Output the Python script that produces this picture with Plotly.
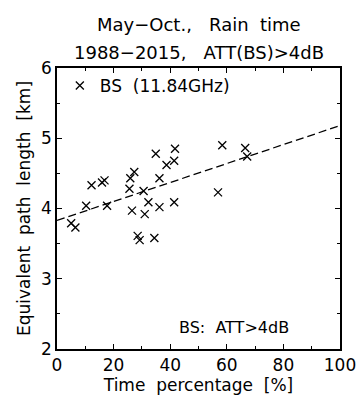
import plotly.graph_objects as go

# Scatter data: time percentage [%] vs equivalent path length [km]
time_pct = [5.0, 6.5, 10.3, 12.2, 15.9, 16.8, 17.7, 25.6, 25.9, 27.3, 26.5, 28.5, 29.2,
            30.6, 31.0, 32.3, 34.4, 34.9, 36.2, 36.2, 38.7, 41.7, 41.4, 41.4, 56.9,
            58.4, 66.5, 67.2]
path_len = [3.79, 3.73, 4.04, 4.33, 4.37, 4.40, 4.04, 4.28, 4.43, 4.52, 3.97, 3.61, 3.55,
            4.25, 3.92, 4.09, 3.58, 4.78, 4.43, 4.02, 4.62, 4.85, 4.68, 4.09, 4.23,
            4.90, 4.86, 4.74]

# Regression line endpoints
fit_x = [0, 100]
fit_y = [3.83, 5.18]

x_ticks = [0, 20, 40, 60, 80, 100]
y_ticks = [2, 3, 4, 5, 6]

FONT = "DejaVu Sans"
S = "\u00a0"

fig = go.Figure()
fig.add_trace(go.Scatter(
    x=fit_x, y=fit_y, mode="lines",
    line=dict(color="black", width=1.3, dash="8px,4px"),
    showlegend=False, hoverinfo="skip"))
fig.add_trace(go.Scatter(
    x=time_pct, y=path_len, mode="markers", name="BS" + S * 2 + "(11.84GHz)",
    marker=dict(symbol="x-thin-open", size=8, color="black",
                line=dict(color="black", width=1.3))))

axis_common = dict(
    showline=True, linecolor="black", linewidth=1.5, mirror="allticks",
    ticks="inside", ticklen=5, tickwidth=1, tickcolor="black",
    showgrid=False, zeroline=False, automargin=False,
    tickfont=dict(family=FONT, size=17, color="black"),
)

fig.update_xaxes(range=[0, 100], tickvals=x_ticks,
                 minor=dict(dtick=10, ticks="inside", ticklen=3, tickcolor="black", showgrid=False),
                 title=dict(text="Time" + S * 2 + "percentage" + S * 2 + "[%]",
                            font=dict(family=FONT, size=17, color="black"), standoff=4),
                 **axis_common)
fig.update_yaxes(range=[2, 6], tickvals=y_ticks,
                 minor=dict(dtick=0.5, ticks="inside", ticklen=3, tickcolor="black", showgrid=False),
                 title=dict(text="Equivalent" + S * 2 + "path" + S * 2 + "length" + S * 2 + "[km]",
                            font=dict(family=FONT, size=17, color="black"), standoff=6),
                 **axis_common)

fig.add_annotation(x=0.5, y=1, xref="paper", yref="paper", yshift=44,
                   text="May\u2212Oct.," + S * 3 + "Rain" + S * 2 + "time", showarrow=False,
                   font=dict(family=FONT, size=18, color="black"), yanchor="middle")
fig.add_annotation(x=0.5, y=1, xref="paper", yref="paper", yshift=16,
                   text="1988\u22122015," + S * 3 + "ATT(BS)>4dB", showarrow=False,
                   font=dict(family=FONT, size=18, color="black"), yanchor="middle")
fig.add_annotation(x=62.5, y=2.30, xref="x", yref="y",
                   text="BS:" + S * 2 + "ATT>4dB", showarrow=False,
                   font=dict(family=FONT, size=16, color="black"))

fig.update_layout(
    width=357, height=401,
    margin=dict(l=57, r=17, t=68, b=52),
    paper_bgcolor="white", plot_bgcolor="white",
    showlegend=True,
    legend=dict(x=0.01, y=1.0, xanchor="left", yanchor="top",
                bgcolor="rgba(0,0,0,0)", font=dict(family=FONT, size=17, color="black")),
)

fig.write_html("out.html", config={"displayModeBar": False},
               post_script="document.body.style.margin='0px';document.body.style.overflow='hidden';")
